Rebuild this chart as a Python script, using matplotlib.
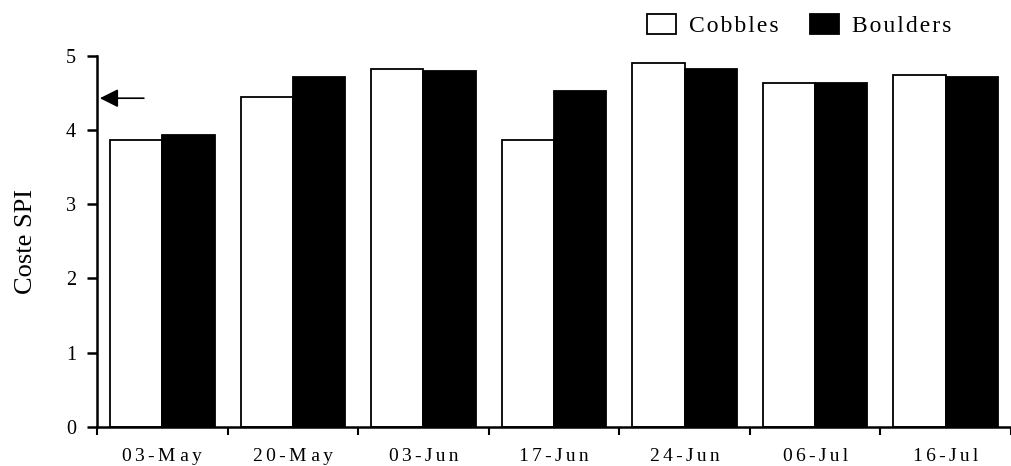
import numpy as np
import matplotlib
matplotlib.use('Agg')
import matplotlib.pyplot as plt

plt.rcParams['font.family'] = ['Liberation Serif', 'DejaVu Serif']

# Sampling dates and Coste SPI values
dates = ['03-M ay', '20-M ay', '03-Jun', '17-Jun', '24-Jun', '06-Jul', '16-Jul']
cobbles = [3.86, 4.45, 4.82, 3.86, 4.90, 4.64, 4.74]
boulders = [3.94, 4.72, 4.79, 4.53, 4.82, 4.63, 4.71]
ref_value = 4.43  # arrow marker on the y axis


def spaced(txt, gap='\u2006'):
    # the scanned figure has loose letter spacing
    return gap.join(txt).replace(gap + ' ' + gap, ' ')


fig = plt.figure(figsize=(10.11, 4.66), dpi=100)
ax = fig.add_axes([0.096, 0.084, 0.904, 0.796])

x = np.arange(len(dates))
w = 0.4
ax.bar(x - w / 2, cobbles, w, color='white', edgecolor='black', linewidth=1.3,
       label=spaced('Cobbles', '\u200a'))
ax.bar(x + w / 2, boulders, w, color='black', edgecolor='black', linewidth=1.3,
       label=spaced('Boulders', '\u200a'))

ax.set_xlim(-0.5, len(dates) - 0.5)
ax.set_ylim(0, 5)
ax.set_yticks([0, 1, 2, 3, 4, 5])
ax.tick_params(axis='y', direction='out', length=7, width=1.8, labelsize=14.5, pad=8)

# ticks at the category boundaries, labels in the middle
ax.set_xticks(np.arange(len(dates) + 1) - 0.5)
ax.set_xticklabels([])
ax.set_xticks(x, minor=True)
ax.set_xticklabels([spaced(d) for d in dates], minor=True, fontsize=14)
ax.tick_params(axis='x', which='major', direction='out', length=6, width=1.5)
ax.tick_params(axis='x', which='minor', length=0, pad=15)

for s in ['top', 'right']:
    ax.spines[s].set_visible(False)
for s in ['left', 'bottom']:
    ax.spines[s].set_linewidth(1.8)

ax.set_ylabel('Coste SPI', fontsize=19, labelpad=21)

ax.annotate('', xy=(-0.5, ref_value), xytext=(-0.12, ref_value),
            arrowprops=dict(arrowstyle='-|>', color='black', lw=1.2, mutation_scale=28),
            annotation_clip=False)

leg = ax.legend(loc='lower right', bbox_to_anchor=(0.935, 1.05), ncol=2, frameon=False,
                fontsize=17, handlelength=1.25, handleheight=0.95, columnspacing=1.3,
                handletextpad=0.55, borderaxespad=0, borderpad=0)

fig.savefig('out.png', dpi=100)
